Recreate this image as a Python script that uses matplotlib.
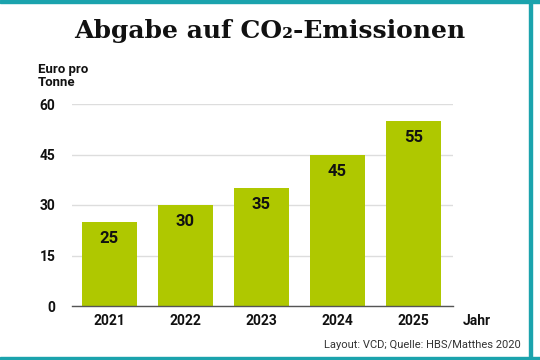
import matplotlib.pyplot as plt
from matplotlib.patches import Rectangle

years = ["2021", "2022", "2023", "2024", "2025"]
prices = [25, 30, 35, 45, 55]
yticks = [0, 15, 30, 45, 60]

bar_color = "#afc800"
frame_color = "#1ba3ad"


def main():
    fig = plt.figure(figsize=(5.4, 3.6), dpi=100)
    ax = fig.add_axes([72 / 540, 1 - 306 / 360, (453 - 72) / 540, (306 - 104) / 360])

    x = range(len(years))
    ax.bar(x, prices, width=0.72, color=bar_color, zorder=2)
    for xi, v in zip(x, prices):
        ax.text(xi, v - 2.7, str(v), ha="center", va="top", fontsize=12,
                fontweight="bold", family="Roboto", color="#111111", zorder=3)

    ax.set_xlim(-0.49, 4.52)
    ax.set_ylim(0, 60)
    ax.set_yticks(yticks)
    ax.set_xticks(list(x))
    ax.set_xticklabels(years)
    ax.grid(axis="y", color="#dddddd", linewidth=1, zorder=0)
    for s in ["top", "right", "left"]:
        ax.spines[s].set_visible(False)
    ax.spines["bottom"].set_color("#555555")
    ax.spines["bottom"].set_linewidth(1)
    ax.tick_params(length=0)
    ax.tick_params(axis="x", pad=6)
    ax.tick_params(axis="y", pad=12)
    for lab in ax.get_xticklabels() + ax.get_yticklabels():
        lab.set_family("Roboto")
        lab.set_fontweight("bold")
        lab.set_fontsize(10)
        lab.set_color("#111111")

    fig.text(0.5, 1 - 31 / 360, "Abgabe auf CO₂-Emissionen", ha="center", va="center",
             fontsize=18, fontweight="bold", family="DejaVu Serif", color="#111111")
    fig.text(38 / 540, 1 - 76 / 360, "Euro pro\nTonne", ha="left", va="center",
             fontsize=9.5, fontweight="bold", family="Roboto", color="#111111",
             linespacing=0.95)
    fig.text(477 / 540, 1 - 321 / 360, "Jahr", ha="center", va="center",
             fontsize=10, fontweight="bold", family="Roboto", color="#111111")
    fig.text(521 / 540, 1 - 345 / 360, "Layout: VCD; Quelle: HBS/Matthes 2020",
             ha="right", va="center", fontsize=8, family="Roboto", color="#333333")

    # teal frame: top, right, bottom
    fig.patches.append(Rectangle((0, 1 - 3 / 360), 1, 3 / 360, transform=fig.transFigure,
                                 color=frame_color, zorder=5))
    fig.patches.append(Rectangle((0, 0), 1, 3 / 360, transform=fig.transFigure,
                                 color=frame_color, zorder=5))
    fig.patches.append(Rectangle((529 / 540, 0), 3 / 540, 1, transform=fig.transFigure,
                                 color=frame_color, zorder=5))

    fig.savefig("out.png", dpi=100)


if __name__ == "__main__":
    main()
